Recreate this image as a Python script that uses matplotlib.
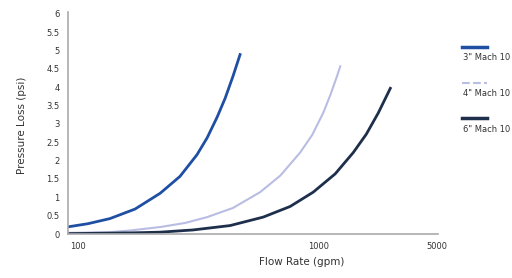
import numpy as np
import matplotlib
matplotlib.use("Agg")
import matplotlib.pyplot as plt

# flow rate (gpm) vs pressure loss (psi)
flow_3 = [90, 110, 136, 173, 220, 266, 313, 345, 380, 410, 442, 473]
loss_3 = [0.19, 0.28, 0.42, 0.68, 1.11, 1.57, 2.16, 2.62, 3.19, 3.70, 4.30, 4.89]
flow_4 = [90, 136, 165, 220, 279, 345, 442, 573, 695, 841, 944, 1049, 1122, 1200, 1235]
loss_4 = [0.03, 0.05, 0.095, 0.19, 0.30, 0.46, 0.71, 1.14, 1.59, 2.22, 2.70, 3.30, 3.78, 4.32, 4.57]
flow_6 = [90, 165, 220, 301, 430, 590, 764, 953, 1177, 1399, 1585, 1778, 1995]
loss_6 = [0.01, 0.03, 0.05, 0.11, 0.23, 0.46, 0.75, 1.14, 1.64, 2.22, 2.72, 3.30, 3.97]

names = ['3" Mach 10', '4" Mach 10', '6" Mach 10']
colors = ["#1f4fa3", "#b9bde3", "#1e2f4c"]

y_ticks = [0, 0.5, 1, 1.5, 2, 2.5, 3, 3.5, 4, 4.5, 5, 5.5, 6]
y_labels = ["0", "0.5", "1", "1.5", "2", "2.5", "3", "3.5", "4", "4.5", "5", "5.5", "6"]
x_labels = ["100", "1000", "5000"]

fig = plt.figure(figsize=(5.12, 2.78), dpi=100)
ax = fig.add_axes([68/512, 44/278, 370/512, 222/278])

ax.plot(flow_3, loss_3, color=colors[0], lw=2.0, solid_joinstyle="round")
ax.plot(flow_4, loss_4, color=colors[1], lw=1.5, solid_joinstyle="round")
ax.plot(flow_6, loss_6, color=colors[2], lw=2.0, solid_joinstyle="round")

ax.set_xscale("log")
ax.set_xlim(91, 3150)
ax.set_ylim(0, 6.05)
ax.set_xticks([100, 1000, 3130])
ax.set_xticks([], minor=True)
ax.set_xticklabels(x_labels)
ax.set_yticks(y_ticks)
ax.set_yticklabels(y_labels)
ax.tick_params(length=0, labelsize=6, colors="#333333", pad=6)

for s in ["top", "right"]:
    ax.spines[s].set_visible(False)
for s in ["left", "bottom"]:
    ax.spines[s].set_color("#aaaaaa")
    ax.spines[s].set_linewidth(1.2)

fig.text(22/512, 1 - 125/278, "Pressure Loss (psi)", rotation=90, ha="center", va="center", fontsize=7.5, color="#333333")
fig.text(302/512, 1 - 262/278, "Flow Rate (gpm)", ha="center", va="center", fontsize=7.5, color="#333333")

# legend drawn at the right edge
leg_y = [47, 83, 118]
for i in range(3):
    fig.add_artist(plt.Line2D([462/512, 487/512], [1 - leg_y[i]/278] * 2, color=colors[i], lw=2.5 if i != 1 else 1.5, ls="-" if i != 1 else "--"))
    fig.text(463/512, 1 - (leg_y[i] + 11)/278, names[i], ha="left", va="center", fontsize=6, color="#333333")

fig.savefig("out.png", dpi=100)
